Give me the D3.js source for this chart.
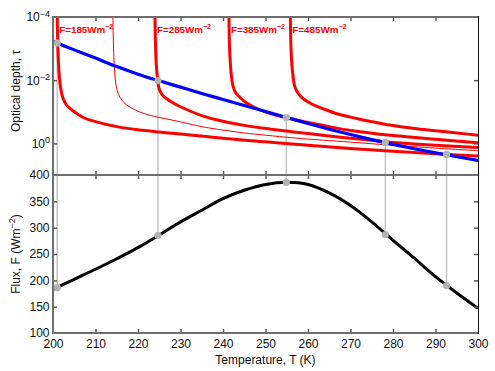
<!DOCTYPE html>
<html><head><meta charset="utf-8">
<script src="https://cdn.jsdelivr.net/npm/d3@7/dist/d3.min.js"></script>
<style>
body{margin:0;background:#fff}
svg{display:block}
text{font-family:"Liberation Sans",Arial,Helvetica,sans-serif;fill:#111}
</style>
</head><body>
<svg id="chart" width="495" height="371"></svg>
<script>
// ---------------- data ----------------
const tempTicks = [200,210,220,230,240,250,260,270,280,290,300];
const fluxTicks = [100,150,200,250,300,350,400];
const tauTicks = [1e-4,1e-2,1];
const tauTickExp = ["\u22124","\u22122","0"];

// blue line: optical depth vs temperature (log10 tau)
const blueT      = [200,205,210,215,220,225,230,235,240,245,250,255,260,265,270,275,280,285,290,295,300];
const blueLogTau = [-3.23,-2.96,-2.70,-2.43,-2.19,-1.98,-1.78,-1.58,-1.39,-1.20,-1.01,-0.82,-0.63,-0.45,-0.28,-0.12,0.03,0.17,0.30,0.42,0.54];

// red flux contours (log10 tau vs T)
const c185T      = [201.0,201.05,201.15,201.3,201.5,201.8,202.3,203.2,205,207.1,210,215,220,225,230,240,250,260,270,280,290,300];
const c185LogTau = [-4.0,-3.5,-3.0,-2.5,-2.1,-1.75,-1.45,-1.21,-1.0,-0.82,-0.69,-0.53,-0.43,-0.36,-0.30,-0.16,-0.05,0.06,0.16,0.25,0.33,0.40];
const c240T      = [214.1,214.15,214.25,214.4,214.6,214.9,215.4,216.2,217.3,219,220.5,222.8,225,228,232,235,240,245,250,257,270,280,290,300];
const c240LogTau = [-4.0,-3.5,-3.0,-2.5,-2.1,-1.8,-1.55,-1.37,-1.22,-1.08,-0.99,-0.89,-0.82,-0.74,-0.62,-0.53,-0.42,-0.33,-0.26,-0.17,-0.04,0.06,0.15,0.23];
const c285T      = [224.0,224.05,224.15,224.3,224.6,225.0,225.8,226.7,228,230,235,240,245,250,255,260,270,280,290,300];
const c285LogTau = [-4.0,-3.5,-3.0,-2.5,-2.05,-1.72,-1.52,-1.42,-1.30,-1.16,-0.88,-0.70,-0.57,-0.47,-0.39,-0.31,-0.16,-0.03,0.06,0.13];
const c385T      = [241.4,241.45,241.55,241.75,242.0,242.4,243.0,243.9,245.3,247.1,251,255,260,265,270,280,290,300];
const c385LogTau = [-4.0,-3.5,-3.0,-2.5,-2.1,-1.79,-1.6,-1.47,-1.30,-1.16,-0.95,-0.81,-0.66,-0.53,-0.41,-0.25,-0.13,-0.02];
const c485T      = [255.85,255.9,256.0,256.2,256.5,256.9,257.7,258.8,261,263.5,267,271.4,275,279.2,285,290,295,300];
const c485LogTau = [-4.0,-3.5,-3.0,-2.5,-2.1,-1.79,-1.58,-1.42,-1.24,-1.10,-0.93,-0.79,-0.69,-0.58,-0.47,-0.40,-0.33,-0.26];
const contourNames = ["185","240","285","385","485"];
const contourLabelled = [true,false,true,true,true];

// black line: flux vs temperature
const fluxT   = [200,205,210,215,220,225,230,235,240,245,250,255,260,265,270,275,280,285,290,295,300];
const fluxVal = [183,202,221,241,262,286,311,333,355,371,382,386,382,366,342,311,276,242,207,176,147];

// gray markers joining the two panels
const dotT      = [201.0,224.7,254.9,278.2,292.6];
const dotLogTau = [-3.18,-1.99,-0.82,-0.03,0.35];
const dotF      = [186,285,386,287,190];

// ---------------- layout ----------------
const svg = d3.select("#chart");
const X0 = 53, X1 = 478, YT0 = 17, YM = 175, YB1 = 333;
const x = d3.scaleLinear().domain([200,300]).range([X0,X1]);
const yTau = d3.scaleLog().domain([1e-4,10]).range([YT0,YM]);
const yF = d3.scaleLinear().domain([100,400]).range([YB1,YM]);

const defs = svg.append("defs");
defs.append("clipPath").attr("id","clipTop").append("rect")
  .attr("x",X0).attr("y",YT0).attr("width",X1-X0).attr("height",YM-YT0);
defs.append("clipPath").attr("id","clipBot").append("rect")
  .attr("x",X0).attr("y",YM).attr("width",X1-X0).attr("height",YB1-YM);

const pts = (ts, vs) => ts.map((t,i)=>({t, v:vs[i]}));

// gray connector lines (under curves)
const gl = svg.append("g");
dotT.forEach((t,i)=>{
  gl.append("line")
    .attr("x1",x(t)).attr("x2",x(t))
    .attr("y1",yTau(Math.pow(10,dotLogTau[i]))).attr("y2",yF(dotF[i]))
    .attr("stroke","#c4c4c4").attr("stroke-width",1.5);
});

// top panel curves
const gTop = svg.append("g").attr("clip-path","url(#clipTop)");
const tauLine = d3.line().x(d=>x(d.t)).y(d=>yTau(Math.pow(10,d.v))).curve(d3.curveCatmullRom.alpha(0.5));
const contours = [[c185T,c185LogTau],[c240T,c240LogTau],[c285T,c285LogTau],[c385T,c385LogTau],[c485T,c485LogTau]];
contours.forEach((c,i)=>{
  gTop.append("path").datum(pts(c[0],c[1]))
    .attr("d",tauLine).attr("fill","none").attr("stroke","#ff0000")
    .attr("stroke-width",contourLabelled[i]?3:1);
});
gTop.append("path").datum(pts(blueT,blueLogTau))
  .attr("d",tauLine).attr("fill","none").attr("stroke","#0000ff").attr("stroke-width",3.2);

// bottom panel curve
const gBot = svg.append("g").attr("clip-path","url(#clipBot)");
const fLine = d3.line().x(d=>x(d.t)).y(d=>yF(d.v)).curve(d3.curveCatmullRom.alpha(0.5));
gBot.append("path").datum(pts(fluxT,fluxVal))
  .attr("d",fLine).attr("fill","none").attr("stroke","#000").attr("stroke-width",3);

// contour labels
contours.forEach((c,i)=>{
  if(!contourLabelled[i]) return;
  const t = svg.append("text").attr("x",x(c[0][0])+2).attr("y",33)
    .style("font-size","9.8px").style("font-weight","bold").style("fill","#ff0000");
  t.append("tspan").text("F="+contourNames[i]+"Wm");
  t.append("tspan").attr("dy",-4.5).style("font-size","7px").text("\u22122");
});

// gray dots
dotT.forEach((t,i)=>{
  svg.append("circle").attr("cx",x(t)).attr("cy",yTau(Math.pow(10,dotLogTau[i]))).attr("r",3.6).attr("fill","#b3b3b3");
  svg.append("circle").attr("cx",x(t)).attr("cy",yF(dotF[i])).attr("r",3.6).attr("fill","#b3b3b3");
});

// ---------------- axes ----------------
const tickCol = "#5a5a5a";
function styleAxis(g){
  g.select(".domain").remove();
  g.selectAll(".tick line").attr("stroke",tickCol).attr("stroke-width",1.5);
  g.selectAll("text").style("font-size","12px").style("fill","#111")
   .style("font-family","'Liberation Sans',Arial,Helvetica,sans-serif");
}
const inner = tempTicks.slice(1,-1);
svg.append("g").attr("transform",`translate(0,${YT0})`)
  .call(d3.axisTop(x).tickValues(inner).tickSizeInner(-4).tickSizeOuter(0).tickFormat(""))
  .call(styleAxis);
svg.append("g").attr("transform",`translate(0,${YM})`)
  .call(d3.axisBottom(x).tickValues(inner).tickSizeInner(-4).tickSizeOuter(0).tickFormat(""))
  .call(styleAxis);
svg.append("g").attr("transform",`translate(0,${YM})`)
  .call(d3.axisTop(x).tickValues(inner).tickSizeInner(-4).tickSizeOuter(0).tickFormat(""))
  .call(styleAxis);
svg.append("g").attr("transform",`translate(0,${YB1})`)
  .call(d3.axisBottom(x).tickValues(tempTicks).tickSizeInner(-4).tickSizeOuter(0).tickPadding(6).tickFormat(d3.format("d")))
  .call(styleAxis)
  .call(g=>g.selectAll(".tick").filter(d=>d===200||d===300).select("line").remove());

svg.append("g").attr("transform",`translate(${X0},0)`)
  .call(d3.axisLeft(yF).tickValues(fluxTicks).tickSizeInner(-4).tickSizeOuter(0).tickPadding(3.5).tickFormat(d3.format("d")))
  .call(styleAxis)
  .call(g=>g.selectAll(".tick").filter(d=>d===100||d===400).select("line").remove());
svg.append("g").attr("transform",`translate(${X1},0)`)
  .call(d3.axisRight(yF).tickValues(fluxTicks.slice(1,-1)).tickSizeInner(-4).tickSizeOuter(0).tickFormat(""))
  .call(styleAxis);

const yTopAxis = svg.append("g").attr("transform",`translate(${X0},0)`)
  .call(d3.axisLeft(yTau).tickValues(tauTicks).tickSizeInner(-4).tickSizeOuter(0).tickPadding(3).tickFormat(()=>""))
  .call(styleAxis);
yTopAxis.selectAll(".tick").filter(d=>d===1e-4).select("line").remove();
yTopAxis.selectAll(".tick text").each(function(d,i){
  const t = d3.select(this);
  t.append("tspan").text("10");
  t.append("tspan").attr("dy","-0.5em").style("font-size","9px").text(tauTickExp[i]);
});
svg.append("g").attr("transform",`translate(${X1},0)`)
  .call(d3.axisRight(yTau).tickValues(tauTicks.slice(1)).tickSizeInner(-4).tickSizeOuter(0).tickFormat(""))
  .call(styleAxis);

function frame(y0,y1){
  const f = svg.append("g");
  f.append("line").attr("x1",X0).attr("x2",X0).attr("y1",y0-1).attr("y2",y1+1).attr("stroke","#6e6e6e").attr("stroke-width",2);
  f.append("line").attr("x1",X0).attr("x2",X1).attr("y1",y0).attr("y2",y0).attr("stroke","#6e6e6e").attr("stroke-width",2);
  f.append("line").attr("x1",X0).attr("x2",X1).attr("y1",y1).attr("y2",y1).attr("stroke","#6e6e6e").attr("stroke-width",2);
  f.append("line").attr("x1",X1+0.5).attr("x2",X1+0.5).attr("y1",y0-1).attr("y2",y1+1).attr("stroke","#111").attr("stroke-width",1);
}
frame(YT0,YM);
frame(YM,YB1);

svg.append("text").attr("x",(X0+X1)/2).attr("y",364).attr("text-anchor","middle")
  .style("font-size","12px").text("Temperature, T (K)");
svg.append("text").attr("transform",`translate(20,${(YT0+YM)/2-5}) rotate(-90)`).attr("text-anchor","middle")
  .style("font-size","12px").text("Optical depth, \u03c4");
const fl = svg.append("text").attr("transform",`translate(20,${(YM+YB1)/2}) rotate(-90)`).attr("text-anchor","middle")
  .style("font-size","12px");
fl.append("tspan").text("Flux, F (Wm");
fl.append("tspan").attr("dy",-5).style("font-size","9px").text("\u22122");
fl.append("tspan").attr("dy",5).text(")");
</script>
</body></html>
